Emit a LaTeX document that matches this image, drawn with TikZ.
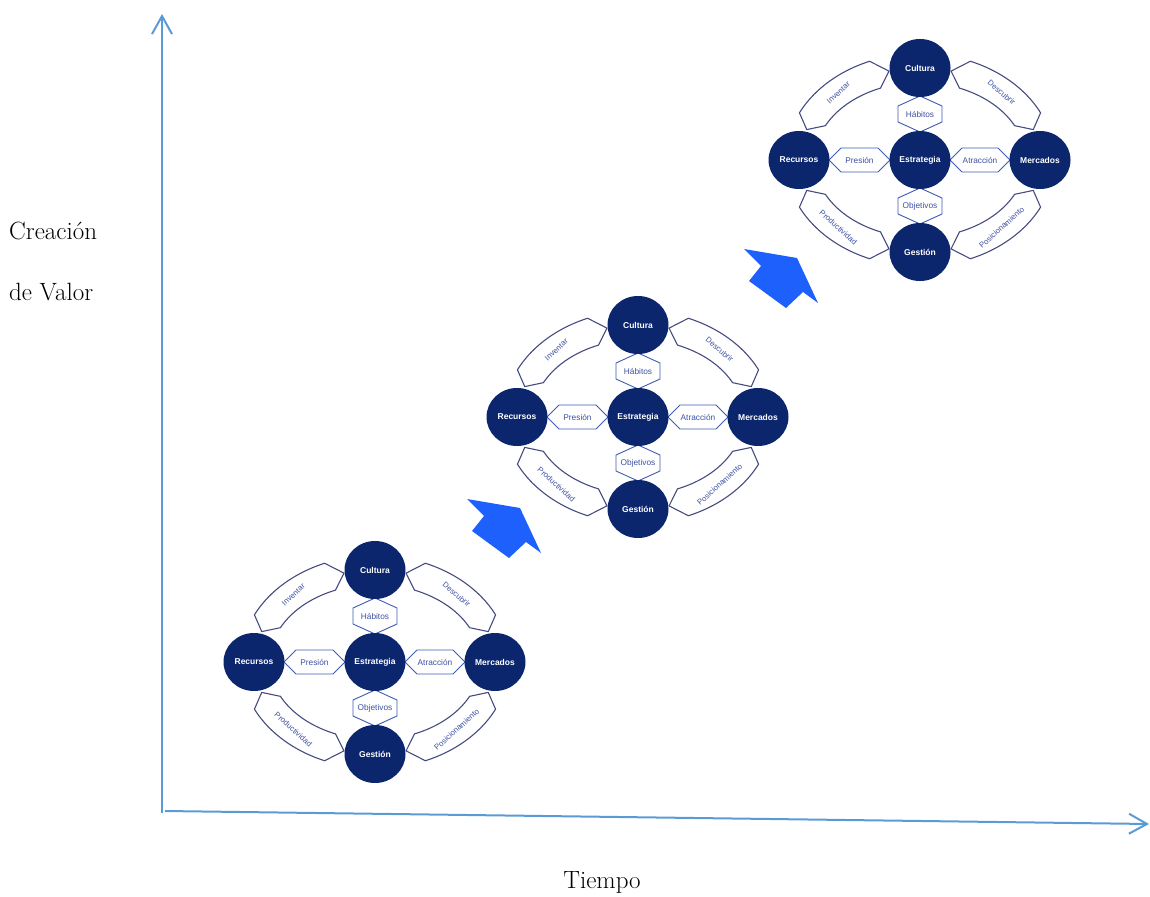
\documentclass[tikz,border=0pt]{standalone}
\usepackage{fontspec}
\newfontfamily\diagsans{Liberation Sans}
\usetikzlibrary{shapes.geometric,arrows.meta,calc}

\definecolor{navy}{RGB}{12,38,110}
\definecolor{bandline}{RGB}{70,76,128}
\definecolor{hexline}{RGB}{62,92,180}
\definecolor{labelblue}{RGB}{62,82,162}
\definecolor{axisblue}{RGB}{91,155,213}
\definecolor{arrowblue}{RGB}{30,96,252}

% ring geometry of one cluster (half axes of the ring, half thickness of a band)
\newcommand\RA{120}
\newcommand\RB{92}
\newcommand\RH{14.5}

% curved band along the ring between tip angles #1 < #2
\newcommand\ringband[2]{%
  \pgfmathsetmacro\bandS{#1+7}%
  \pgfmathsetmacro\bandE{#2-7}%
  \draw[band]
    plot[domain=\bandS:\bandE, samples=30] ({(\RA+\RH)*cos(\x)},{(\RB+\RH)*sin(\x)})
    -- ({\RA*cos(#2)},{\RB*sin(#2)})
    -- plot[domain=\bandE:\bandS, samples=30] ({(\RA-\RH)*cos(\x)},{(\RB-\RH)*sin(\x)})
    -- ({\RA*cos(#1)},{\RB*sin(#1)}) -- cycle;}

\begin{document}
\begin{tikzpicture}[x=1pt,y=-1pt,
  hub/.style={ellipse, fill=navy, minimum width=61pt, minimum height=58pt,
    inner sep=0pt, text=white, font=\diagsans\bfseries\fontsize{8.5}{10}\selectfont},
  hexbox/.style={draw=hexline, line width=0.9pt, fill=white, line join=miter},
  hexlabel/.style={text=labelblue, font=\diagsans\fontsize{8.3}{9}\selectfont, inner sep=0pt},
  band/.style={draw=bandline, line width=1.1pt, line join=round, fill=white},
  bandlabel/.style={text=labelblue, font=\diagsans\fontsize{7.8}{9}\selectfont, inner sep=0pt},
  axis/.style={draw=axisblue, line width=2pt, -{Straight Barb[length=18pt, width=20pt]}},
  axislabel/.style={font=\fontsize{25}{29}\selectfont, inner sep=0pt},
  bigarrow/.style={fill=arrowblue}
]
\useasboundingbox (0,0) rectangle (1150,896);

% axes
\coordinate (yorig) at (162,813);
\coordinate (ytop)  at (162,14);
\coordinate (xorig) at (165,811);
\coordinate (xend)  at (1149,824);
\draw[axis] (yorig) -- (ytop);
\draw[axis] (xorig) -- (xend);

\node[axislabel, anchor=west] (lblA) at (9,231) {Creación};
\node[axislabel, anchor=west] (lblB) at (9,292) {de Valor};
\node[axislabel] (lblT) at (602,882) {Tiempo};

% block arrows between the clusters
\coordinate (tipA) at (520,508);
\coordinate (tipB) at (797,258);
\foreach \t in {tipA,tipB}
  \fill[bigarrow, shift={(\t)}] (0,0) -- (21,45) -- (6,34) -- (-11,50)
     -- (-48,23) -- (-36,8) -- (-53,-9) -- cycle;

% the three clusters
\foreach \k/\cx/\cy in {1/375/662, 2/638/417, 3/920/160} {
  \begin{scope}[shift={(\cx,\cy)}]
    % bands on the ring
    \ringband{199.3}{255}
    \ringband{285}{340.7}
    \ringband{19.3}{75}
    \ringband{105}{160.7}
    \node[bandlabel, rotate=43]  (inv\k) at ({\RA*cos(227.15)},{\RB*sin(227.15)}) {Inventar};
    \node[bandlabel, rotate=-40] (des\k) at ({\RA*cos(312.85)},{\RB*sin(312.85)}) {Descubrir};
    \node[bandlabel, rotate=42]  (pos\k) at ({\RA*cos(47.15)},{\RB*sin(47.15)}) {Posicionamiento};
    \node[bandlabel, rotate=-42] (pro\k) at ({\RA*cos(132.85)},{\RB*sin(132.85)}) {Productividad};

    % hexagonal links
    \draw[hexbox] (-91,0) -- (-79,-12) -- (-42,-12) -- (-30,0) -- (-42,12) -- (-79,12) -- cycle;
    \draw[hexbox] (30,0) -- (42,-12) -- (78,-12) -- (90,0) -- (78,12) -- (42,12) -- cycle;
    \draw[hexbox] (0,-64) -- (22,-54) -- (22,-38) -- (0,-28) -- (-22,-38) -- (-22,-54) -- cycle;
    \draw[hexbox] (0,28) -- (22,38) -- (22,54) -- (0,64) -- (-22,54) -- (-22,38) -- cycle;
    \node[hexlabel] (pre\k) at (-60.5,0) {Presión};
    \node[hexlabel] (atr\k) at (60,0) {Atracción};
    \node[hexlabel] (hab\k) at (0,-46) {Hábitos};
    \node[hexlabel] (obj\k) at (0,46) {Objetivos};

    % hubs
    \node[hub] (est\k) at (0,0) {Estrategia};
    \node[hub] (cul\k) at (0,-92) {Cultura};
    \node[hub] (ges\k) at (0,92) {Gestión};
    \node[hub] (rec\k) at (-121,0) {Recursos};
    \node[hub] (mer\k) at (120,0) {Mercados};
  \end{scope}
}
\end{tikzpicture}
\end{document}
